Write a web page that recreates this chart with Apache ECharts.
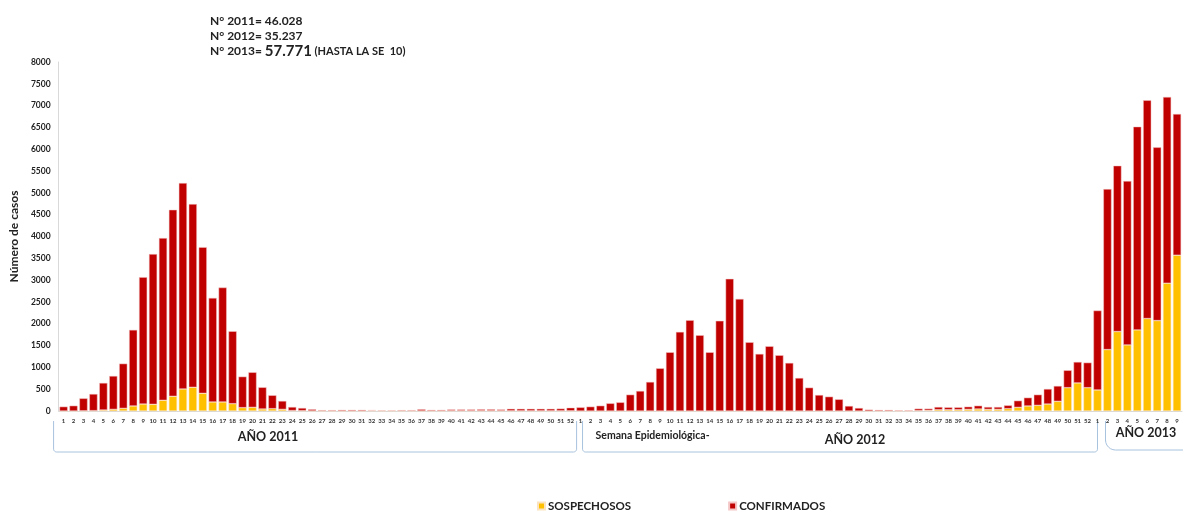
<!DOCTYPE html>
<html>
<head>
<meta charset="utf-8">
<script src="https://cdn.jsdelivr.net/npm/echarts@6/dist/echarts.min.js"></script>
<style>
  html, body { margin: 0; padding: 0; background: #fff; }
  #main { width: 1183px; height: 511px; }
</style>
</head>
<body>
<div id="main"></div>
<script>
// semanas epidemiologicas
var weeks2011 = ['1','2','3','4','5','6','7','8','9','10','11','12','13','14','15','16','17','18','19','20','21','22','23','24','25','26',
                 '27','28','29','30','31','32','33','34','35','36','37','38','39','40','41','42','43','44','45','46','47','48','49','50','51','52'];
var weeks2012 = ['1','2','3','4','5','6','7','8','9','10','11','12','13','14','15','16','17','18','19','20','21','22','23','24','25','26',
                 '27','28','29','30','31','32','33','34','35','36','37','38','39','40','41','42','43','44','45','46','47','48','49','50','51','52'];
var weeks2013 = ['1','2','3','4','5','6','7','8','9'];

// sospechosos
var sosp2011 = [0,0,5,8,23,38,61,115,160,153,245,337,505,543,405,207,207,168,77,84,46,54,38,10,8,3,
                2,2,2,2,2,8,3,3,3,3,3,3,3,8,8,8,8,8,8,5,5,5,5,5,5,5];
var sosp2012 = [0,0,0,0,0,0,0,0,0,0,0,0,0,0,0,0,0,0,0,0,0,0,0,0,0,0,
                0,0,0,0,0,0,0,0,10,15,30,30,30,38,46,38,38,54,84,115,130,160,222,535,643,535];
var sosp2013 = [482,1408,1821,1515,1859,2119,2073,2930,3573];

// confirmados
var conf2011 = [100,122,285,382,620,765,1025,1744,2908,3443,3718,4276,4720,4200,3351,2386,2623,1660,711,803,497,306,192,82,61,37,
                18,18,23,23,23,12,12,12,17,17,37,22,22,27,27,27,32,32,27,45,45,45,45,45,50,70];
var conf2012 = [84,100,122,176,199,375,459,666,979,1346,1813,2081,1737,1346,2066,3029,2570,1576,1308,1484,1278,1102,757,536,367,329,
                268,115,69,31,23,23,15,15,44,39,62,54,54,61,76,54,54,76,153,191,245,345,352,398,481,574];
var conf2013 = [1821,3679,3802,3756,4659,5003,3971,4269,3236];

var yTicks = ['0','500','1000','1500','2000','2500','3000','3500','4000','4500','5000','5500','6000','6500','7000','7500','8000'];

var categorias = [];
weeks2011.forEach(function (w) { categorias.push('2011-' + w); });
weeks2012.forEach(function (w) { categorias.push('2012-' + w); });
weeks2013.forEach(function (w) { categorias.push('2013-' + w); });

var fontFam = 'Lato, "Open Sans", sans-serif';
var chart = echarts.init(document.getElementById('main'));

var option = {
    backgroundColor: '#FFFFFF',
    animation: false,
    title: {
        left: 205,
        top: 9,
        text: '{a|N° 2011= 46.028}\n{a|N° 2012= 35.237}\n{a|N° 2013= }{b|57.771}{c| (HASTA LA SE  10)}',
        textStyle: {
            rich: {
                a: { fontFamily: fontFam, fontSize: 12, fontWeight: 'bold', color: '#222', lineHeight: 15 },
                b: { fontFamily: fontFam, fontSize: 15, fontWeight: 'bold', color: '#222', lineHeight: 15 },
                c: { fontFamily: fontFam, fontSize: 11, fontWeight: 'bold', color: '#222', lineHeight: 15 }
            }
        }
    },
    legend: {
        left: 537,
        top: 500,
        padding: 0,
        itemWidth: 7,
        itemHeight: 7,
        itemGap: 97,
        icon: 'rect',
        textStyle: { fontFamily: fontFam, fontSize: 11.5, fontWeight: 'bold', color: '#222', padding: [0, 0, 0, -2] },
        data: ['SOSPECHOSOS', 'CONFIRMADOS']
    },
    color: ['#FFC000', '#C00000'],
    grid: {
        left: 54,
        right: 1,
        top: 62,
        bottom: 100
    },
    xAxis: {
        type: 'category',
        data: categorias,
        axisLine: { lineStyle: { color: '#d9d9d9' } },
        axisTick: { show: false },
        axisLabel: {
            interval: 0,
            margin: 7,
            fontFamily: fontFam,
            fontSize: 6,
            fontWeight: 'bold',
            color: '#333',
            formatter: function (v) { return v.split('-')[1]; }
        }
    },
    yAxis: {
        type: 'value',
        min: 0,
        max: 8000,
        interval: 500,
        name: 'Número de casos',
        nameLocation: 'middle',
        nameGap: 31,
        nameTextStyle: { fontFamily: fontFam, fontSize: 12, fontWeight: 'bold', color: '#222' },
        axisLine: { show: true, lineStyle: { color: '#d9d9d9' } },
        axisTick: { show: false },
        splitLine: { show: false },
        axisLabel: {
            margin: 8,
            fontFamily: fontFam,
            fontSize: 8.5,
            fontWeight: 'bold',
            color: '#222',
            formatter: function (v) { return yTicks[v / 500]; }
        }
    },
    series: [
        {
            name: 'SOSPECHOSOS',
            type: 'bar',
            stack: 'casos',
            barCategoryGap: '18%',
            itemStyle: { borderColor: '#fbe3c0', borderWidth: 0.5 },
            data: sosp2011.concat(sosp2012, sosp2013)
        },
        {
            name: 'CONFIRMADOS',
            type: 'bar',
            stack: 'casos',
            barCategoryGap: '18%',
            itemStyle: { borderColor: '#f4c6c6', borderWidth: 0.5 },
            data: conf2011.concat(conf2012, conf2013)
        }
    ]
};
chart.setOption(option);

// llaves de los años, ubicadas sobre las categorias
function px(i) { return chart.convertToPixel({ xAxisIndex: 0 }, i); }
function esquina(cx, cy, r, a0, a1, pts) {
    for (var k = 0; k <= 6; k++) {
        var a = a0 + (a1 - a0) * k / 6;
        pts.push([cx + r * Math.cos(a), cy + r * Math.sin(a)]);
    }
}
function llave(x0, x1, top, bottom, r) {
    var pts = [[x0, top]];
    esquina(x0 + r, bottom - r, r, Math.PI, Math.PI / 2, pts);
    esquina(x1 - r, bottom - r, r, Math.PI / 2, 0, pts);
    pts.push([x1, top]);
    return pts;
}
var n11 = weeks2011.length, n12 = weeks2012.length, n13 = weeks2013.length;
var lineaLlave = { stroke: '#a8c2de', lineWidth: 1, fill: null };
var txt = { fontFamily: fontFam, fontWeight: 'bold', fill: '#222' };

chart.setOption({
    graphic: [
        { type: 'polyline', shape: { points: llave(px(0) - 10, px(n11 - 1) + 6, 421, 452, 3) }, style: lineaLlave },
        { type: 'polyline', shape: { points: llave(px(n11) + 2, px(n11 + n12), 421, 452, 3) }, style: lineaLlave },
        { type: 'polyline', shape: { points: llave(px(n11 + n12) + 8, px(n11 + n12 + n13 - 1) + 16, 421, 450, 10) }, style: lineaLlave },
        { type: 'text', x: 268, y: 437, style: Object.assign({ text: 'AÑO 2011', fontSize: 12.5, align: 'center', verticalAlign: 'middle' }, txt) },
        { type: 'text', x: px(n11) + 15, y: 436, style: Object.assign({ text: 'Semana Epidemiológica-', fontSize: 10.5, align: 'left', verticalAlign: 'middle' }, txt) },
        { type: 'text', x: 855, y: 440, style: Object.assign({ text: 'AÑO 2012', fontSize: 12.5, align: 'center', verticalAlign: 'middle' }, txt) },
        { type: 'text', x: 1146, y: 433, style: Object.assign({ text: 'AÑO 2013', fontSize: 12.5, align: 'center', verticalAlign: 'middle' }, txt) }
    ]
});

window.addEventListener('resize', function () {
    chart.resize();
});
</script>
</body>
</html>
